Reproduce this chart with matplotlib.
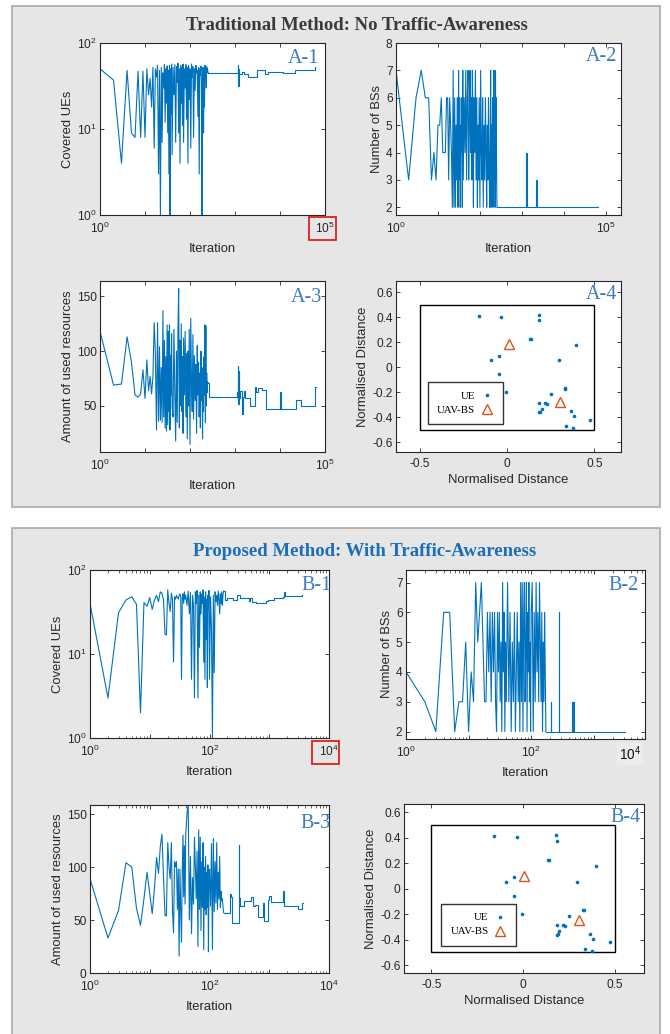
import numpy as np
import matplotlib
matplotlib.use("Agg")
import matplotlib.pyplot as plt
from matplotlib import rcParams
from matplotlib.patches import Rectangle
from matplotlib.ticker import FixedLocator, FuncFormatter, LogLocator, NullFormatter, NullLocator

rcParams['font.family'] = 'Liberation Sans'
rcParams['mathtext.default'] = 'regular'
rcParams['axes.unicode_minus'] = False

# ---------------- data ----------------
# iterations of the (dense) first phase, shared by the A panels
a_iter = (list(range(1, 41)) + list(range(42, 71, 2)) + [72, 75, 78, 81, 84, 87, 90, 93, 96]
          + list(range(100, 121, 4)) + list(range(125, 256, 5)))
a1_ues = [50, 37, 4, 48, 9, 8, 47, 8, 47, 8, 50, 25, 39, 18,
          52, 6, 50, 40, 55, 3, 48, 1, 52, 7, 45, 30, 56, 12, 50, 20, 54, 9, 48, 3, 55, 1, 50, 15, 57, 5,
          52, 25, 56, 7, 53, 35, 58, 9, 50, 4, 55, 20, 52, 11, 57,
          7, 50, 30, 56, 13, 52, 4, 55, 22,
          50, 6, 57, 40, 53, 8,
          50, 28, 55, 45, 48, 14, 52, 3, 50, 42, 54, 35, 1, 48, 52, 9, 50, 18, 55, 40, 52, 30, 53, 45, 50, 46, 45]
a2_bss = [7, 3, 6, 7, 6, 6, 3, 4, 3, 5, 5, 6, 4, 4,
          4, 6, 6, 3, 6, 5, 4, 2, 7, 2, 6, 2, 5, 3, 6, 2, 7, 3, 6, 2, 5, 4, 6, 2, 7, 3,
          6, 4, 7, 3, 6, 7, 3, 5, 7, 4, 6, 3, 7, 5, 2,
          6, 4, 7, 3, 6, 2, 5, 3, 6,
          2, 7, 4, 3, 6, 2,
          5, 3, 6, 4, 2, 5, 3, 6, 4, 2, 3, 7, 2, 5, 3, 6, 2, 4, 7, 3, 6, 2, 7, 3, 6, 3, 2]
a3_res = [118, 69, 70, 113, 90, 60, 58, 61, 83, 57, 92, 64, 77, 61,
          77, 126, 98, 28, 126, 36, 104, 37, 85, 35, 137, 40, 110, 30, 95, 27, 124, 33, 118, 45, 124, 28, 96, 60, 116, 50,
          40, 120, 60, 18, 100, 35, 120, 157, 30, 110, 50, 125, 45, 95, 25,
          112, 60, 118, 40, 98, 20, 100, 50, 120,
          15, 130, 70, 45, 115, 38,
          96, 55, 88, 25, 105, 60, 90, 40, 80, 30, 100, 55, 85, 20, 75, 45, 95, 60, 124, 35, 123, 50, 80, 62, 72, 71, 71]

# converged (step-like) phase
a1_tail_iter = [255, 1120, 1150, 1180, 1200, 1230, 1400, 1600, 1970, 2780, 3030, 4300, 4700, 5500, 11800, 21500, 60000]
a1_tail_ues = [45, 45, 56, 32, 50, 44, 46, 44, 40, 40, 48, 48, 44, 46, 45, 48, 52]
a2_tail_iter = [255, 1250, 1275, 1300, 1330, 2200, 2230, 64000]
a2_tail_bss = [2, 3, 4, 3, 2, 3, 2, 2]
a3_tail_iter = [255, 265, 1120, 1140, 1160, 1180, 1200, 1230, 1300, 1400, 1450, 1500, 1600, 1700,
                2150, 2780, 3000, 3300, 3900, 4900, 10000, 10300, 22700, 30000, 60000, 61000, 62000]
a3_tail_res = [71, 58, 63, 54, 86, 52, 82, 57, 64, 57, 43, 58, 64, 57,
               50, 67, 63, 66, 65, 47, 63, 47, 55, 50, 57, 67, 67]

b_iter = list(range(1, 41)) + list(range(42, 101, 2)) + list(range(104, 173, 4))
b1_ues = [40, 3, 31, 44, 48, 39, 2, 41, 37, 47, 34, 44, 50, 42, 55, 53, 44, 17, 17, 58,
          40, 32, 53, 45, 8, 48, 45, 50, 47, 45, 50, 52, 48, 5, 46, 52, 40, 55, 45, 50,
          38, 56, 30, 54, 5, 50, 38, 3, 55, 40, 57, 3, 50, 12, 55, 30, 52, 40, 58, 8,
          48, 5, 55, 15, 45, 4, 50, 35, 57, 5,
          48, 20, 1, 50, 6, 55, 42, 50, 38, 56, 45, 30, 52, 40, 55, 38, 50, 56]
b2_bss = [4, 3, 2, 6, 6, 2, 3, 3, 5, 2, 4, 3, 7, 5, 6, 7, 5, 3, 3, 6,
          4, 6, 3, 6, 4, 6, 3, 2, 6, 4, 6, 3, 5, 2, 7, 4, 6, 2, 5, 3,
          7, 3, 6, 2, 5, 3, 6, 2, 4, 6, 3, 5, 2, 7, 3, 7, 2, 6, 7, 3,
          5, 7, 2, 6, 4, 7, 3, 5, 2, 6,
          7, 2, 6, 3, 7, 4, 6, 3, 7, 5, 3, 6, 2, 5, 3, 6, 4, 2]
b3_res = [89, 33, 59, 104, 100, 61, 45, 70, 95, 75, 56, 80, 109, 94, 119, 131, 90, 54, 54, 123,
          100, 89, 123, 60, 38, 105, 100, 105, 60, 98, 16, 98, 60, 29, 97, 130, 72, 120, 65, 130,
          150, 160, 50, 110, 37, 90, 65, 128, 100, 70, 115, 25, 135, 60, 128, 40, 105, 62, 123, 22,
          100, 60, 110, 55, 95, 62, 102, 20, 88, 98,
          63, 122, 22, 127, 58, 105, 66, 123, 60, 95, 70, 110, 62, 77, 68, 70, 63, 57]

b1_tail_iter = [172, 182, 200, 250, 290, 320, 420, 450, 480, 520, 600, 880, 950, 1200, 1700, 1750, 1800, 3500]
b1_tail_ues = [56, 44, 46, 44, 51, 46, 46, 43, 46, 42, 40, 43, 44, 46, 48, 55, 49, 50]
b2_tail_iter = [172, 205, 210, 275, 280, 455, 460, 475, 480, 3200]
b2_tail_bss = [2, 3, 2, 6, 2, 3, 2, 3, 2, 2]
b3_tail_iter = [172, 220, 228, 240, 300, 310, 316, 330, 380, 500, 540, 580, 640, 780, 830, 950,
                1000, 1050, 1700, 1750, 2350, 3000, 3500, 3700]
b3_tail_res = [57, 75, 72, 47, 47, 121, 71, 63, 68, 72, 63, 64, 53, 66, 49, 69,
               73, 67, 77, 63, 63, 60, 66, 66]

# user positions (same in both scenarios) and UAV-BS positions
ue_x = [-0.158, -0.032, 0.181, 0.185, 0.134, 0.140, 0.397, -0.048, -0.090, 0.296, -0.048, -0.006,
        0.330, 0.334, 0.250, 0.185, 0.219, 0.231, 0.198, 0.185, 0.189, 0.366, 0.382, 0.473, 0.338, 0.378]
ue_y = [0.411, 0.403, 0.422, 0.379, 0.225, 0.225, 0.182, 0.089, 0.057, 0.055, -0.054, -0.201,
        -0.166, -0.170, -0.217, -0.283, -0.286, -0.294, -0.331, -0.360, -0.355, -0.353, -0.392, -0.419, -0.470, -0.488]
area_half = 0.5
a_bs_x = [0.010, 0.305]
a_bs_y = [0.188, -0.278]
b_bs_x = [0.004, 0.304]
b_bs_y = [0.104, -0.243]

# ---------------- figure ----------------
W, H = 670, 1034
LINE = '#0072BD'
ORANGE = '#D95319'
TXT = '#262626'
TAG = '#3a7cc3'

fig = plt.figure(figsize=(W / 100, H / 100), dpi=100)
fig.patch.set_facecolor('white')


def px_rect(x0, y0, x1, y1):
    return (x0 / W, 1 - y1 / H, (x1 - x0) / W, (y1 - y0) / H)


def panel(x0, y0, x1, y1):
    l, b, w, h = px_rect(x0, y0, x1, y1)
    fig.add_artist(Rectangle((l, b), w, h, transform=fig.transFigure, facecolor='#e6e6e6',
                             edgecolor='#a9a9a9', lw=1.2, zorder=-5))


def red_box(x0, y0, x1, y1):
    l, b, w, h = px_rect(x0, y0, x1, y1)
    fig.add_artist(Rectangle((l, b), w, h, transform=fig.transFigure, fill=False,
                             edgecolor='#e0201c', lw=1.3, zorder=10))


def new_axes(x0, y0, x1, y1, tag, tag_x, tag_y):
    ax = fig.add_axes(px_rect(x0, y0, x1, y1))
    ax.set_facecolor('white')
    ax.tick_params(which='both', direction='in', top=True, right=True, colors=TXT,
                   labelsize=8.6, length=3.2, width=0.6, pad=2.5)
    ax.tick_params(axis='x', which='both', pad=4.5)
    ax.tick_params(which='minor', length=1.8, width=0.5)
    for s in ax.spines.values():
        s.set_color(TXT)
        s.set_linewidth(0.8)
    ax.text(tag_x, tag_y, tag, transform=ax.transAxes, ha='right', va='top',
            family='Liberation Serif', fontsize=14.5, color=TAG, zorder=6)
    return ax


def log_x(ax, lo, hi, labeled, minor):
    ax.set_xscale('log')
    ax.set_xlim(lo, hi)
    decs = [10.0 ** k for k in range(0, 7) if lo <= 10.0 ** k <= hi * 1.0001]
    ax.xaxis.set_major_locator(FixedLocator(decs))
    ax.xaxis.set_major_formatter(FuncFormatter(
        lambda v, p: '$10^{%d}$' % round(np.log10(v)) if round(np.log10(v)) in labeled else ''))
    if minor:
        ax.xaxis.set_minor_locator(LogLocator(base=10, subs=np.arange(2, 10), numticks=30))
    else:
        ax.xaxis.set_minor_locator(NullLocator())
    ax.xaxis.set_minor_formatter(NullFormatter())
    ax.set_xlabel('Iteration', fontsize=9.4, color=TXT, labelpad=5)


def log_y(ax):
    ax.set_yscale('log')
    ax.set_ylim(1, 100)
    ax.yaxis.set_major_locator(FixedLocator([1, 10, 100]))
    ax.yaxis.set_major_formatter(FuncFormatter(lambda v, p: '$10^{%d}$' % round(np.log10(v))))
    ax.yaxis.set_minor_locator(NullLocator())
    ax.yaxis.set_minor_formatter(NullFormatter())


def trace(ax, it, vals, tail_it, tail_vals):
    ax.plot(it, vals, color=LINE, lw=0.8)
    ax.plot(tail_it, tail_vals, color=LINE, lw=0.8, drawstyle='steps-post')


def dist_fmt(v, p):
    return '0' if abs(v) < 1e-9 else '%.1f' % v


def layout_map(ax, bs_x, bs_y, xlim, ylim, leg_xy):
    ax.add_patch(Rectangle((-area_half, -area_half), 2 * area_half, 2 * area_half,
                           fill=False, edgecolor='black', lw=1.0))
    ax.plot(ue_x, ue_y, '.', color=LINE, ms=3.2, label='UE')
    ax.plot(bs_x, bs_y, '^', mfc='none', mec=ORANGE, mew=1.0, ms=7.5, label='UAV-BS')
    ax.set_xlim(*xlim)
    ax.set_ylim(*ylim)
    ax.xaxis.set_major_locator(FixedLocator([-0.5, 0, 0.5]))
    ax.yaxis.set_major_locator(FixedLocator([-0.6, -0.4, -0.2, 0, 0.2, 0.4, 0.6]))
    ax.xaxis.set_major_formatter(FuncFormatter(dist_fmt))
    ax.yaxis.set_major_formatter(FuncFormatter(dist_fmt))
    ax.set_xlabel('Normalised Distance', fontsize=9.4, color=TXT, labelpad=3)
    ax.set_ylabel('Normalised Distance', fontsize=9.4, color=TXT, labelpad=2)
    leg = ax.legend(loc='center', bbox_to_anchor=leg_xy, markerfirst=False,
                    prop={'family': 'Liberation Serif', 'size': 7.8}, frameon=True,
                    fancybox=False, framealpha=1, edgecolor='#333333', borderpad=0.85,
                    labelspacing=0.4, handlelength=1.3, handletextpad=0.4)
    leg.get_frame().set_linewidth(1.0)


# background panels
panel(12, 6, 660, 507)
panel(12, 528, 660, 1040)

fig.text(357 / W, 1 - 26 / H, 'Traditional Method: No Traffic-Awareness', ha='center', va='center',
         family='Liberation Serif', fontweight='bold', fontsize=13.5, color='#3a3a3a')
fig.text(365 / W, 1 - 552 / H, 'Proposed Method: With Traffic-Awareness', ha='center', va='center',
         family='Liberation Serif', fontweight='bold', fontsize=13.5, color='#1a6fb8')

# A-1
ax = new_axes(100, 43, 325, 215, 'A-1', 0.975, 0.965)
trace(ax, a_iter, a1_ues, a1_tail_iter, a1_tail_ues)
log_x(ax, 1, 1e5, [0, 5], False)
log_y(ax)
ax.set_ylabel('Covered UEs', fontsize=9.4, color=TXT, labelpad=2)

# A-2
ax = new_axes(396, 43, 621, 215, 'A-2', 0.985, 0.975)
trace(ax, a_iter, a2_bss, a2_tail_iter, a2_tail_bss)
log_x(ax, 1, 2.3e5, [0, 5], False)
ax.set_ylim(1.72, 8)
ax.yaxis.set_major_locator(FixedLocator([2, 3, 4, 5, 6, 7, 8]))
ax.set_ylabel('Number of BSs', fontsize=9.4, color=TXT, labelpad=2)

# A-3
ax = new_axes(100, 281, 325, 452, 'A-3', 0.985, 0.96)
trace(ax, a_iter, a3_res, a3_tail_iter, a3_tail_res)
log_x(ax, 1, 1e5, [0, 5], False)
ax.set_ylim(8, 164)
ax.yaxis.set_major_locator(FixedLocator([50, 100, 150]))
ax.set_ylabel('Amount of used resources', fontsize=9.4, color=TXT, labelpad=2)

# A-4
ax = new_axes(396, 281, 621, 452, 'A-4', 0.985, 0.975)
layout_map(ax, a_bs_x, a_bs_y, (-0.635, 0.653), (-0.677, 0.69), (0.309, 0.284))

# B-1
ax = new_axes(90, 570, 329, 738, 'B-1', 1.01, 0.965)
trace(ax, b_iter, b1_ues, b1_tail_iter, b1_tail_ues)
log_x(ax, 1, 1e4, [0, 2, 4], True)
log_y(ax)
ax.set_ylabel('Covered UEs', fontsize=9.4, color=TXT, labelpad=2)

# B-2
ax = new_axes(406, 570, 645, 739, 'B-2', 0.975, 0.965)
trace(ax, b_iter, b2_bss, b2_tail_iter, b2_tail_bss)
log_x(ax, 1, 6600, [0, 2], True)
ax.set_ylim(1.75, 7.42)
ax.yaxis.set_major_locator(FixedLocator([2, 3, 4, 5, 6, 7]))
ax.set_ylabel('Number of BSs', fontsize=9.4, color=TXT, labelpad=2)
fig.text(630 / W, 1 - 754 / H, '$10^4$', ha='center', va='center', fontsize=9.8, color='#111111',
         bbox=dict(facecolor='#ececec', edgecolor='none', pad=1.5))

# B-3
ax = new_axes(90, 805, 329, 973, 'B-3', 1.005, 0.945)
trace(ax, b_iter, b3_res, b3_tail_iter, b3_tail_res)
log_x(ax, 1, 1e4, [0, 2, 4], True)
ax.set_ylim(0, 158.5)
ax.yaxis.set_major_locator(FixedLocator([0, 50, 100, 150]))
ax.set_ylabel('Amount of used resources', fontsize=9.4, color=TXT, labelpad=2)

# B-4
ax = new_axes(404, 804, 644, 973, 'B-4', 0.985, 0.975)
layout_map(ax, b_bs_x, b_bs_y, (-0.649, 0.66), (-0.661, 0.666), (0.311, 0.286))

# highlight boxes around the last tick labels
red_box(309, 217, 336, 240)
red_box(312, 741, 339, 764)

fig.savefig('out.png', dpi=100, facecolor='white')
